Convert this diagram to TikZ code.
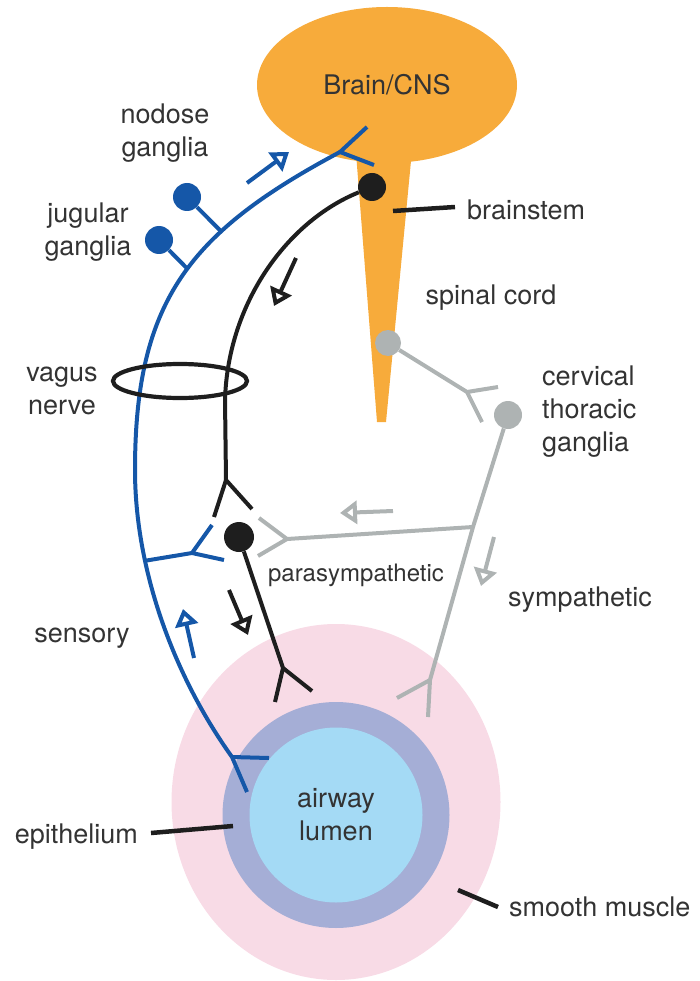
\documentclass[tikz,border=0pt]{standalone}
\usepackage{fontspec}
\setmainfont{TeX Gyre Heros}
\usetikzlibrary{positioning,arrows.meta,shapes.geometric}
\definecolor{brainorange}{HTML}{F7AB3B}
\definecolor{sensblue}{HTML}{1557A8}
\definecolor{neuroblack}{HTML}{1E1E1E}
\definecolor{sympgray}{HTML}{AEB3B3}
\definecolor{musclepink}{HTML}{F8DBE6}
\definecolor{epipurple}{HTML}{A5AED6}
\definecolor{lumenblue}{HTML}{A4DAF5}
\definecolor{labelgray}{HTML}{333333}

\begin{document}
\begin{tikzpicture}[
    x=1pt, y=-1pt,
    node distance=10pt,
    lbl/.style={inner sep=0pt, text=labelgray, align=center, font=\fontsize{27}{33}\selectfont},
    soma/.style={circle, inner sep=0pt, minimum size=28pt},
    sens/.style={draw=sensblue, line width=4pt},
    para/.style={draw=neuroblack, line width=4pt},
    symp/.style={draw=sympgray, line width=4pt},
    flow/.style={-{Triangle[open, length=17pt, width=23pt]}, line width=4pt},
    pointer/.style={draw=neuroblack, line width=4.5pt}
]
\useasboundingbox (0,0) rectangle (699,981);
\clip (0,0) rectangle (699,981);

\node[ellipse, fill=musclepink, minimum width=329pt, minimum height=356pt] (muscle) at (336,802) {};
\node[ellipse, fill=epipurple, minimum width=227pt, minimum height=226pt] (epi) at (336,815) {};
\node[ellipse, fill=lumenblue, minimum width=173pt, minimum height=175pt, lbl] (lumen) at (336,815) {airway\\lumen};

\fill[brainorange] (355,140) -- (413,140) -- (386,422) -- (377,422) -- cycle;
\node[ellipse, fill=brainorange, minimum width=260pt, minimum height=156pt, lbl] (brain) at (387,85) {Brain/CNS};

% sensory
\coordinate (sJa) at (340,152);
\coordinate (sTa) at (367,127);
\coordinate (sTb) at (374,165);
\coordinate (sMid) at (135,470);
\coordinate (sJb) at (232,757);
\coordinate (sTc) at (247,792);
\coordinate (sTd) at (269,758);
\coordinate (sJc) at (192,553);
\coordinate (sTe) at (212,525);
\coordinate (sTf) at (224,560);
\draw[sens] (sTa) -- (sJa) -- (sTb);
\draw[sens] (sJa) .. controls (190,232) and (135,300) .. (sMid)
    coordinate[pos=0.33] (ndA) coordinate[pos=0.47] (jgA)
    .. controls (135,570) and (174,676) .. (sJb) coordinate[pos=0.3] (brA);
\draw[sens] (sJb) -- (sTc) (sJb) -- (sTd);
\draw[sens] (brA) -- (sJc) -- (sTe) (sJc) -- (sTf);
\node[soma, fill=sensblue] (nodose) at (187,197) {};
\node[soma, fill=sensblue] (jugular) at (159,240) {};
\draw[sens] (nodose) -- (ndA);
\draw[sens] (jugular) -- (jgA);
\coordinate (sFa) at (247,183);
\coordinate (sFb) at (289,152);
\coordinate (sFc) at (194,658);
\coordinate (sFd) at (183,609);
\draw[flow, draw=sensblue] (sFa) -- (sFb);
\draw[flow, draw=sensblue] (sFc) -- (sFd);

% parasympathetic
\node[soma, fill=neuroblack] (brainstemN) at (372,187) {};
\coordinate (pMid) at (225,400);
\coordinate (pJa) at (226,480);
\coordinate (pTa) at (214,517);
\coordinate (pTb) at (252,509);
\draw[para] (brainstemN) .. controls (290,220) and (228,300) .. (pMid) -- (pJa) -- (pTa) (pJa) -- (pTb);
\node[soma, fill=neuroblack, minimum size=30pt] (paraN) at (239,537) {};
\coordinate (pJb) at (283,668);
\coordinate (pTc) at (275,702);
\coordinate (pTd) at (312,691);
\draw[para] (paraN) -- (pJb) -- (pTc) (pJb) -- (pTd);
\coordinate (pFa) at (296,258);
\coordinate (pFb) at (274,306);
\coordinate (pFc) at (229,590);
\coordinate (pFd) at (248,635);
\draw[flow, draw=neuroblack] (pFa) -- (pFb);
\draw[flow, draw=neuroblack] (pFc) -- (pFd);

% sympathetic
\node[soma, fill=sympgray, minimum size=26pt] (spinalN) at (388,343) {};
\node[soma, fill=sympgray] (cervN) at (508,415) {};
\coordinate (gJa) at (467,392);
\coordinate (gTa) at (498,387);
\coordinate (gTb) at (482,422);
\draw[symp] (spinalN) -- (gJa) -- (gTa) (gJa) -- (gTb);
\coordinate (gX) at (473,527);
\coordinate (gJb) at (430,680);
\coordinate (gTc) at (428,717);
\coordinate (gTd) at (397,698);
\draw[symp] (cervN) -- (gX) -- (gJb) -- (gTc) (gJb) -- (gTd);
\coordinate (gJc) at (287,539);
\coordinate (gTe) at (259,518);
\coordinate (gTf) at (258,556);
\draw[symp] (gX) -- (gJc) -- (gTe) (gJc) -- (gTf);
\coordinate (gFa) at (393,511);
\coordinate (gFb) at (340,513);
\coordinate (gFc) at (494,537);
\coordinate (gFd) at (481,586);
\draw[flow, draw=sympgray] (gFa) -- (gFb);
\draw[flow, draw=sympgray] (gFc) -- (gFd);

\node[ellipse, draw=neuroblack, line width=4.2pt, minimum width=134pt, minimum height=34pt] (vagus) at (180,381) {};

% labels
\node[lbl] (nodoseLbl) at (165,133) {nodose\\ganglia};
\node[lbl] (jugularLbl) at (88,232) {jugular\\ganglia};
\node[lbl] (vagusLbl) at (62,391) {vagus\\nerve};
\node[lbl] (spinalLbl) at (491,298) {spinal cord};
\node[lbl, align=left, anchor=west] (cervLbl) at (542,412) {cervical\\thoracic\\ganglia};
\node[lbl, font=\fontsize{24}{28}\selectfont] (paraLbl) at (356,575) {parasympathetic};
\node[lbl] (sympLbl) at (580,600) {sympathetic};
\node[lbl] (sensLbl) at (82,638) {sensory};

\coordinate (bsA) at (393,211);
\coordinate (bsB) at (455,207);
\draw[pointer] (bsA) -- (bsB);
\node[lbl, right=12pt of bsB, yshift=-3pt] (brainstemLbl) {brainstem};
\coordinate (epA) at (151,833);
\coordinate (epB) at (233,826);
\draw[pointer] (epA) -- (epB);
\node[lbl, left=13pt of epA, yshift=-4pt] (epiLbl) {epithelium};
\coordinate (smA) at (458,890);
\coordinate (smB) at (498,907);
\draw[pointer] (smA) -- (smB);
\node[lbl, right=11pt of smB] (muscleLbl) {smooth muscle};

\end{tikzpicture}
\end{document}
